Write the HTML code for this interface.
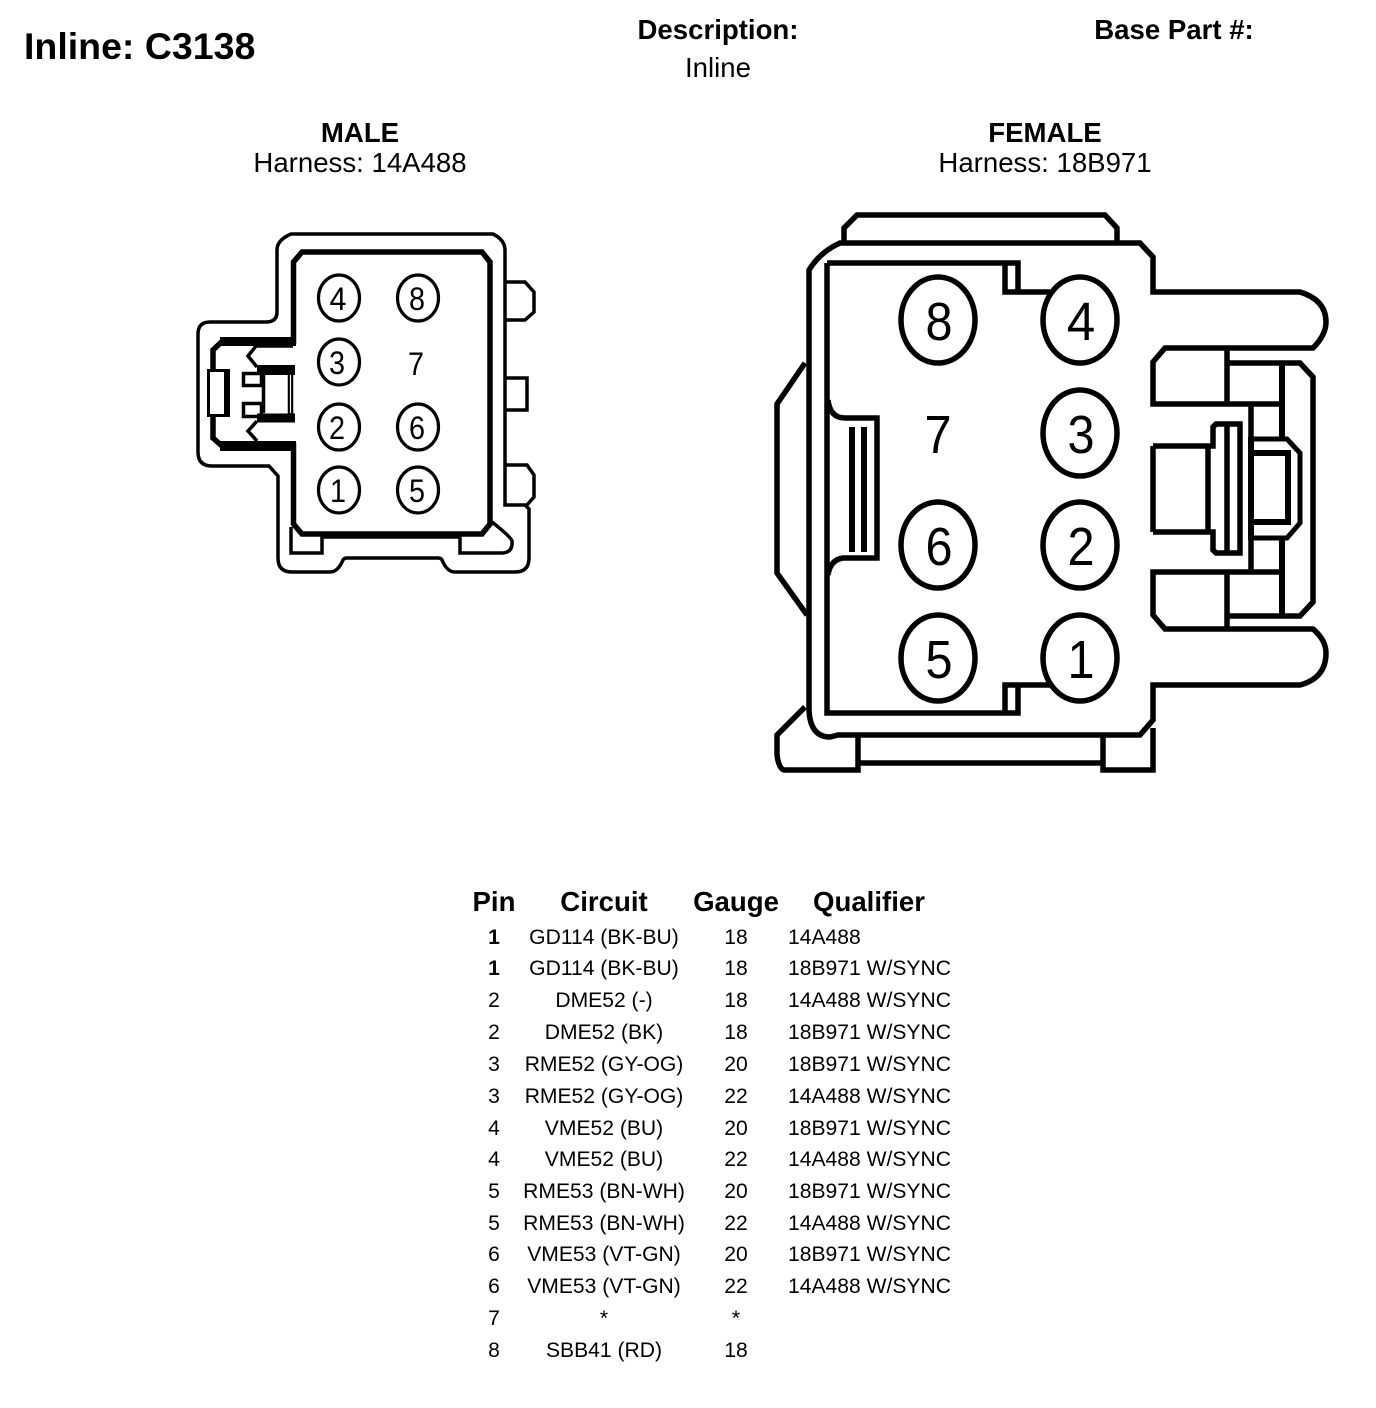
<!DOCTYPE html>
<html><head><meta charset="utf-8"><style>
html,body{margin:0;padding:0;background:#fff}
svg{display:block}
text{font-family:"Liberation Sans",Arial,sans-serif;fill:#000}
.b{font-weight:bold}
.m{text-anchor:middle}
.h{font-size:27.6px}
.r{font-size:21.1px}
.l{fill:none;stroke:#000;stroke-linejoin:miter}
.w{fill:#fff;stroke:#000}
</style></head><body>
<svg width="1376" height="1408" viewBox="0 0 1376 1408" xmlns="http://www.w3.org/2000/svg">
<rect width="1376" height="1408" fill="#fff"/>
<text x="24" y="59" class="b" font-size="37.5">Inline: C3138</text>
<text x="718" y="39" class="b m h">Description:</text>
<text x="718" y="77" class="m h">Inline</text>
<text x="1174" y="39" class="b m h">Base Part #:</text>
<text x="360" y="142" class="b m h">MALE</text>
<text x="360" y="172" class="m h">Harness: 14A488</text>
<text x="1045" y="142" class="b m h">FEMALE</text>
<text x="1045" y="172" class="m h">Harness: 18B971</text>

<!-- MALE -->
<g class="l" stroke-width="3.500">
<path d="M291 234H493Q505 240 505 250V505H525L529 509V558Q529 572 515 572H455Q447 572 442 560Q441 558 438 558H347Q344 558 343 560Q338 572 330 572H292Q278 572 278 558V476L269 466H212Q198 466 198 452V334Q198 322 210 322H266Q277 322 277 312V250Q277 240 291 234Z"/>
<path d="M505 282H525L534 292V312L525 320H505"/>
<path d="M505 378H527V410H505"/>
<path d="M505 465H527L534 475V497L527 505"/>
<path d="M293 346H256L248 356L257 367"/>
<path d="M257 421L248 431L257 441"/>
<path d="M291 527V553H322V535"/>
<path d="M322 537H460"/>
<path d="M460 535V553H503Q513 552 512 541Q511 537 492 522"/>
<rect x="243.500" y="373.500" width="18" height="12"/>
<rect x="243.500" y="403.500" width="18" height="13"/>
</g>
<g class="l" stroke-width="5.500">
<path d="M302 252H482L490 262V524L482 534H302L293.500 524V446H222L213 438V350L222 341.500H293.500V262Z"/>
<path d="M220 341.500H296" stroke-width="9"/>
<path d="M220 446H296" stroke-width="10"/>
<path d="M257 370H295" stroke-width="10"/>
<path d="M257 418H295" stroke-width="9"/>
<path d="M263.500 375V413" stroke-width="3.500"/>
<path d="M290.500 365V422" stroke-width="5.500"/>
<path d="M290.500 375V413" stroke="#fff" stroke-width="1.200"/>
</g>
<rect x="208.500" y="370.500" width="18" height="45" fill="#fff" stroke="#000" stroke-width="3"/>
<path d="M227 369V417" fill="none" stroke="#000" stroke-width="6"/>
<g class="w" stroke-width="3.200">
<ellipse cx="339" cy="298" rx="20.500" ry="23"/><ellipse cx="418" cy="298" rx="20.500" ry="23"/>
<ellipse cx="339" cy="362" rx="20.500" ry="23"/>
<ellipse cx="339" cy="427" rx="20.500" ry="23"/><ellipse cx="418" cy="427" rx="20.500" ry="23"/>
<ellipse cx="339" cy="490" rx="20.500" ry="23"/><ellipse cx="418" cy="490" rx="20.500" ry="23"/>
</g>
<g class="m" font-size="32">
<text transform="translate(338 310) scale(.95 1)">4</text>
<text transform="translate(417 310) scale(.9 1)">8</text>
<text transform="translate(337 374) scale(.9 1)">3</text>
<text transform="translate(416 375) scale(.9 1)">7</text>
<text transform="translate(337 439) scale(.9 1)">2</text>
<text transform="translate(417 439) scale(.9 1)">6</text>
<text transform="translate(338 502) scale(.9 1)">1</text>
<text transform="translate(417 502) scale(.9 1)">5</text>
</g>

<!-- FEMALE -->
<g class="l" stroke-width="5.500">
<path d="M844 243V228L857 215H1105L1117 228V243"/>
<path d="M809 707V270Q820 252 840 243H1140L1153 257V292H1300Q1326 300 1326 322Q1326 335 1313 348H1165L1153 362V404H1282"/>
<path d="M809 707Q809 737 830 737L838 735H1140L1153 720V685H1300Q1326 678 1326 653Q1326 640 1313 629H1165L1153 615V572H1282"/>
<path d="M805 363L777 404V573L807 615"/>
<path d="M805 707L777 735V755Q779 770 785 770H858V737"/>
<path d="M858 763H1103"/>
<path d="M1103 737V770H1153V728"/>
<path d="M1227 348V404M1227 573V629"/>
<path d="M1227 363H1300L1313 377V602L1300 616H1227"/>
<path d="M1251 404V437M1251 538V572"/>
<path d="M1282 363V437M1282 538V616" stroke-width="6"/>
<path d="M1251 439H1287L1300 453V523L1287 538H1251" stroke-width="5"/>
<path d="M1251 453H1288V522H1251" stroke-width="6"/>
<path d="M1251 437V540" stroke-width="6"/>
<path d="M1153 446V532M1153 446H1213V427L1216 424H1240V553H1216L1213 550V532H1153"/>
<path d="M1208 446V532M1227 424V553"/>
<path d="M827 263H1018V292H1005V265M1005 292H1050"/>
<path d="M827 263V713H1018V685H1005V713M1005 685H1050"/>
<path d="M828 400Q830 418 845 418H877V558H843Q830 560 828 575"/>
<path d="M852 427V552M864 427V552" stroke-width="6"/>
</g>
<g class="w" stroke-width="5.500">
<ellipse cx="938" cy="320" rx="37" ry="43"/><ellipse cx="1080" cy="320" rx="37" ry="43"/>
<ellipse cx="1080" cy="433" rx="37" ry="43"/>
<ellipse cx="938" cy="545" rx="37" ry="43"/><ellipse cx="1080" cy="545" rx="37" ry="43"/>
<ellipse cx="938" cy="658" rx="37" ry="43"/><ellipse cx="1080" cy="658" rx="37" ry="43"/>
</g>
<g class="m" font-size="54">
<text transform="translate(939 340) scale(.9 1)">8</text>
<text transform="translate(1081 340) scale(.95 1)">4</text>
<text transform="translate(938 453) scale(.9 1)">7</text>
<text transform="translate(1081 453) scale(.9 1)">3</text>
<text transform="translate(939 565) scale(.9 1)">6</text>
<text transform="translate(1081 565) scale(.9 1)">2</text>
<text transform="translate(939 678) scale(.9 1)">5</text>
<text transform="translate(1081 678) scale(.9 1)">1</text>
</g>

<!-- TABLE -->
<text x="494" y="911" class="b m h">Pin</text>
<text x="604" y="911" class="b m h">Circuit</text>
<text x="736" y="911" class="b m h">Gauge</text>
<text x="869" y="911" class="b m h">Qualifier</text>
<g class="m r">
<text x="494" y="944" class="b">1</text><text x="604" y="944">GD114 (BK-BU)</text><text x="736" y="944">18</text>
<text x="494" y="975" class="b">1</text><text x="604" y="975">GD114 (BK-BU)</text><text x="736" y="975">18</text>
<text x="494" y="1007">2</text><text x="604" y="1007">DME52 (-)</text><text x="736" y="1007">18</text>
<text x="494" y="1039">2</text><text x="604" y="1039">DME52 (BK)</text><text x="736" y="1039">18</text>
<text x="494" y="1071">3</text><text x="604" y="1071">RME52 (GY-OG)</text><text x="736" y="1071">20</text>
<text x="494" y="1103">3</text><text x="604" y="1103">RME52 (GY-OG)</text><text x="736" y="1103">22</text>
<text x="494" y="1135">4</text><text x="604" y="1135">VME52 (BU)</text><text x="736" y="1135">20</text>
<text x="494" y="1166">4</text><text x="604" y="1166">VME52 (BU)</text><text x="736" y="1166">22</text>
<text x="494" y="1198">5</text><text x="604" y="1198">RME53 (BN-WH)</text><text x="736" y="1198">20</text>
<text x="494" y="1230">5</text><text x="604" y="1230">RME53 (BN-WH)</text><text x="736" y="1230">22</text>
<text x="494" y="1261">6</text><text x="604" y="1261">VME53 (VT-GN)</text><text x="736" y="1261">20</text>
<text x="494" y="1293">6</text><text x="604" y="1293">VME53 (VT-GN)</text><text x="736" y="1293">22</text>
<text x="494" y="1325">7</text><text x="604" y="1325">*</text><text x="736" y="1325">*</text>
<text x="494" y="1357">8</text><text x="604" y="1357">SBB41 (RD)</text><text x="736" y="1357">18</text>
</g>
<g class="r">
<text x="788" y="944">14A488</text>
<text x="788" y="975">18B971 W/SYNC</text>
<text x="788" y="1007">14A488 W/SYNC</text>
<text x="788" y="1039">18B971 W/SYNC</text>
<text x="788" y="1071">18B971 W/SYNC</text>
<text x="788" y="1103">14A488 W/SYNC</text>
<text x="788" y="1135">18B971 W/SYNC</text>
<text x="788" y="1166">14A488 W/SYNC</text>
<text x="788" y="1198">18B971 W/SYNC</text>
<text x="788" y="1230">14A488 W/SYNC</text>
<text x="788" y="1261">18B971 W/SYNC</text>
<text x="788" y="1293">14A488 W/SYNC</text>
</g>
</svg>
</body></html>
